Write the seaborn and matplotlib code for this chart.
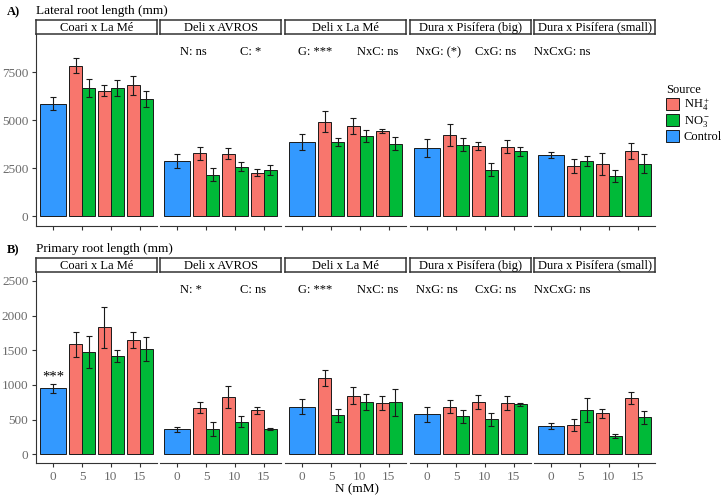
import numpy as np
import pandas as pd
import matplotlib
matplotlib.use("Agg")
import matplotlib.pyplot as plt
from matplotlib.patches import Patch
import seaborn as sns

# genotipos (facetas) y niveles de N
genotypes = ["Coari x La Mé", "Deli x AVROS", "Deli x La Mé",
             "Dura x Pisífera (big)", "Dura x Pisífera (small)"]
n_levels = ["0", "5", "10", "15"]
n_treat = ["5", "10", "15"]
src_nh4 = "NH$_4^+$"
src_no3 = "NO$_3^-$"
src_ctrl = "Control"

# A) longitud de raíces laterales (mm): media y error estándar
lat_ctrl = [5870, 2880, 3870, 3560, 3177]
lat_ctrl_se = [320, 375, 420, 470, 150]
lat_nh4 = [[7850, 6545, 6820], [3280, 3270, 2275], [4930, 4700, 4460],
           [4235, 3645, 3630], [2604, 2708, 3400]]
lat_nh4_se = [[400, 280, 510], [330, 280, 200], [545, 430, 100],
              [555, 210, 340], [365, 565, 400]]
lat_no3 = [[6680, 6700, 6090], [2170, 2590, 2410], [3870, 4170, 3780],
           [3730, 2430, 3385], [2880, 2083, 2725]]
lat_no3_se = [[460, 420, 410], [330, 250, 260], [210, 300, 330],
              [330, 355, 245], [245, 310, 495]]

# B) longitud de raíz primaria (mm)
pri_ctrl = [950, 360, 686, 576, 408]
pri_ctrl_se = [67, 38, 108, 108, 48]
pri_nh4 = [[1589, 1829, 1646], [672, 821, 634], [1094, 845, 734],
           [686, 754, 734], [418, 590, 811]]
pri_nh4_se = [[180, 295, 110], [82, 160, 55], [115, 125, 100],
              [96, 103, 100], [86, 62, 80]]
pri_no3 = [[1469, 1416, 1517], [365, 470, 365], [562, 749, 749],
           [547, 504, 720], [638, 264, 533]]
pri_no3_se = [[230, 90, 175], [100, 80, 20], [90, 113, 190],
              [89, 94, 24], [177, 34, 91]]

lat_stats = ["N: ns", "C: *", "G: ***", "NxC: ns", "NxG: (*)", "CxG: ns", "NxCxG: ns"]
pri_stats = ["N: *", "C: ns", "G: ***", "NxC: ns", "NxG: ns", "CxG: ns", "NxCxG: ns"]

colors = {src_nh4: "#F8766D", src_no3: "#00BA38", src_ctrl: "#3399FF"}

plt.rcParams["font.family"] = ["Liberation Serif", "DejaVu Serif"]
plt.rcParams["mathtext.default"] = "regular"
plt.rcParams["font.size"] = 9

W, H = 727, 497
fig = plt.figure(figsize=(W / 100, H / 100), dpi=100)


def fx(px):
    return px / W


def fy(py):
    return 1 - py / H


def make_df(ctrl, ctrl_se, nh4, nh4_se, no3, no3_se):
    rows = []
    for g, geno in enumerate(genotypes):
        rows.append((geno, "0", src_ctrl, ctrl[g], ctrl_se[g]))
        for i, n in enumerate(n_treat):
            rows.append((geno, n, src_nh4, nh4[g][i], nh4_se[g][i]))
            rows.append((geno, n, src_no3, no3[g][i], no3_se[g][i]))
    return pd.DataFrame(rows, columns=["geno", "N", "Source", "mean", "se"])


lefts = [36, 160, 285, 410, 534]
fw = 121


def draw_panel(df, top, bottom, ylim, yticks, letter, title, stats, show_xlab):
    axes = []
    for g, geno in enumerate(genotypes):
        ax = fig.add_axes([fx(lefts[g]), fy(bottom), fx(fw), (bottom - top) / H])
        sub = df[df.geno == geno]
        ctrl = sub[sub.Source == src_ctrl]
        trt = sub[sub.Source != src_ctrl]
        sns.barplot(data=ctrl, x="N", y="mean", order=n_levels, color=colors[src_ctrl],
                    saturation=1, width=0.9, errorbar=None, edgecolor="#1a1a1a",
                    linewidth=0.7, ax=ax)
        sns.barplot(data=trt, x="N", y="mean", hue="Source", order=n_levels,
                    hue_order=[src_nh4, src_no3], palette=colors, saturation=1,
                    width=0.9, dodge=True, errorbar=None, edgecolor="#1a1a1a",
                    linewidth=0.7, legend=False, ax=ax)
        # barras de error en el centro de cada barra
        for p in ax.patches:
            if p.get_height() == 0 or np.isnan(p.get_height()):
                continue
            cx = p.get_x() + p.get_width() / 2
            cat = n_levels[int(round(cx))]
            if cat == "0":
                row = ctrl
            else:
                s = src_nh4 if cx < round(cx) else src_no3
                row = trt[(trt.N == cat) & (trt.Source == s)]
            ax.errorbar(cx, row["mean"].iloc[0], yerr=row["se"].iloc[0], color="#1a1a1a",
                        lw=0.8, capsize=2, capthick=0.8)
        ax.set_xlim(-0.6, 3.6)
        ax.set_ylim(*ylim)
        ax.set_xlabel("")
        ax.set_ylabel("")
        ax.set_yticks(yticks)
        for sp in ["top", "right"]:
            ax.spines[sp].set_visible(False)
        ax.spines["bottom"].set_color("#333333")
        ax.spines["left"].set_color("#333333")
        ax.tick_params(axis="both", colors="#333333", labelcolor="#6b6b6b",
                       labelsize=9.5, length=3, width=0.8, pad=2.5)
        if g > 0:
            ax.spines["left"].set_visible(False)
            ax.tick_params(axis="y", left=False, labelleft=False)
        if not show_xlab:
            ax.tick_params(axis="x", labelbottom=False)
        ax.set_facecolor("none")
        # tira con el nombre del genotipo
        st = fig.add_axes([fx(lefts[g]), fy(top), fx(fw), 14 / H])
        st.set_xticks([])
        st.set_yticks([])
        for sp in st.spines.values():
            sp.set_color("#333333")
            sp.set_linewidth(1.1)
        st.text(0.5, 0.45, geno, ha="center", va="center", fontsize=9, transform=st.transAxes)
        axes.append(ax)
    fig.text(fx(7), fy(top - 22), letter, fontweight="bold", fontsize=9, va="center")
    fig.text(fx(36), fy(top - 23), title, fontsize=9.5, va="center")
    stat_x = [180, 240, 298, 357, 416, 475, 534]
    for x, s in zip(stat_x, stats):
        fig.text(fx(x), fy(top + 18), s, fontsize=9, va="center", ha="left")
    return axes


lat = make_df(lat_ctrl, lat_ctrl_se, lat_nh4, lat_nh4_se, lat_no3, lat_no3_se)
pri = make_df(pri_ctrl, pri_ctrl_se, pri_nh4, pri_nh4_se, pri_no3, pri_no3_se)

draw_panel(lat, 34, 226, (-505, 9494), [0, 2500, 5000, 7500], "A)",
           "Lateral root length (mm)", lat_stats, False)
axb = draw_panel(pri, 272, 463, (-125, 2627), [0, 500, 1000, 1500, 2000, 2500], "B)",
                 "Primary root length (mm)", pri_stats, True)

# asteriscos sobre el control de Coari x La Mé
axb[0].text(0, pri_ctrl[0] + pri_ctrl_se[0], "***", ha="center", va="bottom", fontsize=10.5)

fig.text(fx(357), fy(489.5), "N (mM)", ha="center", va="center", fontsize=9.5)

handles = [Patch(facecolor=colors[s], edgecolor="#1a1a1a", linewidth=0.7)
           for s in [src_nh4, src_no3, src_ctrl]]
fig.legend(handles, [src_nh4, src_no3, src_ctrl], title="Source", loc="upper left",
           bbox_to_anchor=(fx(666), fy(84)), frameon=False, handlelength=1.05,
           handleheight=1.1, handletextpad=0.35, labelspacing=0.05, borderpad=0,
           borderaxespad=0, alignment="left", fontsize=9, title_fontsize=9)

fig.savefig("out.png", dpi=100)
